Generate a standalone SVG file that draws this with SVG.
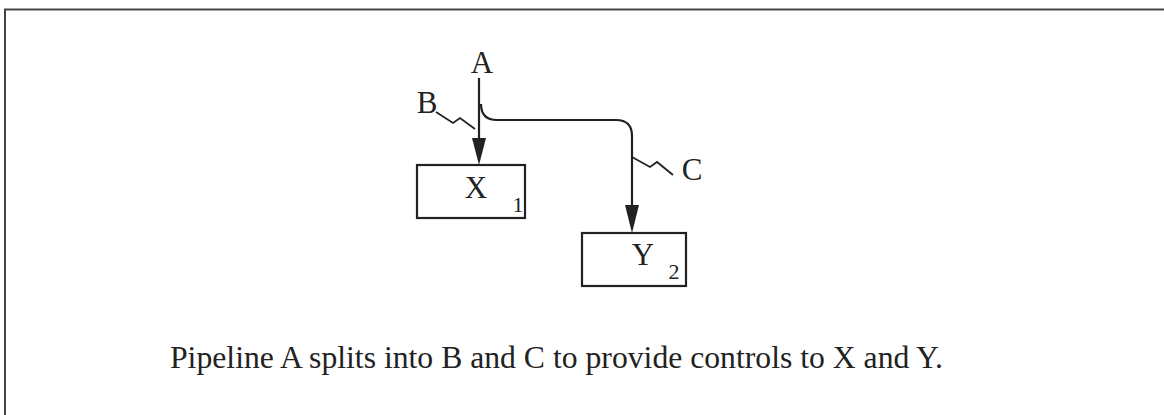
<svg xmlns="http://www.w3.org/2000/svg" width="1164" height="415" viewBox="0 0 1164 415">
<style>
.t{font-family:"Liberation Serif","Times New Roman",serif;fill:#222;}
.lbl{font-size:31px;}
.sub{font-size:22px;}
.box{fill:none;stroke:#222;stroke-width:2.2;}
.ln{fill:none;stroke:#222;stroke-width:2.2;}
.ld{fill:none;stroke:#222;stroke-width:1.8;}
</style>
<rect width="1164" height="415" fill="#fff"/>
<path d="M5,415 L5,9.5 L1164,9.5" fill="none" stroke="#444" stroke-width="2"/>
<g id="connectors">
<path class="ln" d="M479,78 L479,138"/>
<path d="M472,138 L486,138 L479,165 Z" fill="#222"/>
<path class="ln" d="M481,104 Q481,120 497,120 L616,120 Q632,120 632,136 L632,205"/>
<path d="M625,205 L639,205 L632,233 Z" fill="#222"/>
<path class="ld" d="M436,112 L453,123 L460,118 L475,129"/>
<path class="ld" d="M632,157 L650,167 L657,162 L673,175"/>
</g>
<g id="A"><text class="t lbl" x="482" y="73" text-anchor="middle">A</text></g>
<g id="B"><text class="t lbl" x="427" y="113" text-anchor="middle">B</text></g>
<g id="C"><text class="t lbl" x="692" y="180" text-anchor="middle">C</text></g>
<g id="X">
<rect class="box" x="417" y="165" width="108" height="53"/>
<text class="t lbl" x="476" y="198" text-anchor="middle">X</text>
<text class="t sub" x="518" y="212" text-anchor="middle">1</text>
</g>
<g id="Y">
<rect class="box" x="582" y="233" width="104" height="53"/>
<text class="t lbl" x="643" y="265" text-anchor="middle">Y</text>
<text class="t sub" x="674" y="279" text-anchor="middle">2</text>
</g>
<g id="caption"><text class="t" x="170" y="368" font-size="31.7">Pipeline A splits into B and C to provide controls to X and Y.</text></g>
</svg>
